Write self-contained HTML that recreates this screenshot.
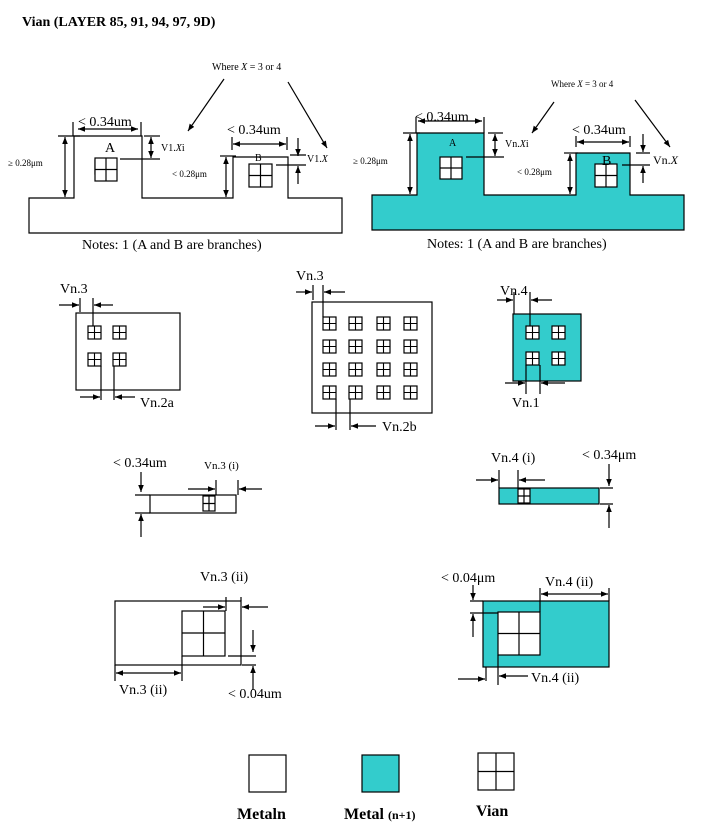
<!DOCTYPE html>
<html><head><meta charset="utf-8"><style>
html,body{margin:0;padding:0;background:#fff;width:701px;height:837px;overflow:hidden}
svg{display:block}
text{font-family:"Liberation Serif",serif;fill:#000}
</style></head><body>
<svg width="701" height="837" viewBox="0 0 701 837" xmlns="http://www.w3.org/2000/svg">
<defs>
<marker id="a" viewBox="0 0 10 10" refX="10" refY="5" markerWidth="7" markerHeight="7" orient="auto-start-reverse" markerUnits="userSpaceOnUse"><path d="M0,1 L10,5 L0,9 z" fill="#000"/></marker>
<g id="via"><rect x="0" y="0" width="14" height="14" fill="#fff" stroke="#000" stroke-width="1.2"/><path d="M7,0V14M0,7H14" stroke="#000" stroke-width="1.2"/></g>
<g id="sv"><rect x="0" y="0" width="13" height="13" fill="#fff" stroke="#000" stroke-width="1.2"/><path d="M6.5,0V13M0,6.5H13" stroke="#000" stroke-width="1.1"/></g>
</defs>
<g stroke="#000" stroke-width="1.2" fill="none">
<text x="22" y="26" font-size="14" font-weight="bold" stroke="none">Vian (LAYER 85, 91, 94, 97, 9D)</text>

<!-- top left -->
<polygon points="29,198 74,198 74,136 142,136 142,198 233,198 233,157 288,157 288,198 342,198 342,233 29,233" fill="#fff"/>
<use href="#via" x="95" y="160" transform="translate(0,0)"/>
<rect x="95" y="158" width="22" height="23" fill="#fff"/><path d="M106,158V181M95,169.5H117"/>
<rect x="249" y="164" width="23" height="23" fill="#fff"/><path d="M260.5,164V187M249,175.5H272"/>
<text x="105" y="152" font-size="14" stroke="none">A</text>
<text x="255" y="161" font-size="10" stroke="none">B</text>
<path d="M73,122V136M141,122V136"/><path d="M78,129H138" marker-start="url(#a)" marker-end="url(#a)"/>
<text x="78" y="126" font-size="14" stroke="none">&lt; 0.34um</text>
<path d="M58,136H80"/><path d="M65,137V197" marker-start="url(#a)" marker-end="url(#a)"/>
<text x="8" y="166" font-size="9" stroke="none">≥ 0.28μm</text>
<path d="M144,136H160"/><path d="M151,137V158" marker-start="url(#a)" marker-end="url(#a)"/><path d="M120,159H160"/>
<text x="161" y="151" font-size="10" stroke="none">V1.<tspan font-style="italic">X</tspan>i</text>
<text x="172" y="177" font-size="9" stroke="none">&lt; 0.28μm</text>
<path d="M220,156H236"/><path d="M226,157V197" marker-start="url(#a)" marker-end="url(#a)"/>
<path d="M232,137V150M287,137V150"/><path d="M233,144H286" marker-start="url(#a)" marker-end="url(#a)"/>
<text x="227" y="134" font-size="14" stroke="none">&lt; 0.34um</text>
<path d="M298,138V156" marker-end="url(#a)"/><path d="M298,184V166" marker-end="url(#a)"/>
<path d="M290,155H306M276,165H306"/>
<text x="307" y="162" font-size="10" stroke="none">V1.<tspan font-style="italic">X</tspan></text>
<text x="212" y="70" font-size="10" stroke="none">Where <tspan font-style="italic">X</tspan> = 3 or 4</text>
<path d="M224,79L188,131" marker-end="url(#a)"/><path d="M288,82L327,148" marker-end="url(#a)"/>
<text x="82" y="249" font-size="14" stroke="none">Notes: 1 (A and B are branches)</text>

<!-- top right -->
<polygon points="372,195 417,195 417,133 484,133 484,195 576,195 576,153 630,153 630,195 684,195 684,230 372,230" fill="#33cccc"/>
<rect x="440" y="157" width="22" height="22" fill="#fff"/><path d="M451,157V179M440,168H462"/>
<rect x="595" y="164" width="22" height="23" fill="#fff"/><path d="M606,164V187M595,175.5H617"/>
<text x="449" y="146" font-size="10" stroke="none">A</text>
<text x="602" y="165" font-size="14" stroke="none">B</text>
<path d="M416,117V133M484,117V133"/><path d="M418,121H482" marker-start="url(#a)" marker-end="url(#a)"/>
<text x="415" y="121" font-size="14" stroke="none">&lt; 0.34um</text>
<path d="M403,133H420"/><path d="M410,134V194" marker-start="url(#a)" marker-end="url(#a)"/>
<text x="353" y="164" font-size="9" stroke="none">≥ 0.28μm</text>
<path d="M488,133H503"/><path d="M495,134V156" marker-start="url(#a)" marker-end="url(#a)"/><path d="M466,157H504"/>
<text x="505" y="147" font-size="10" stroke="none">Vn.<tspan font-style="italic">X</tspan>i</text>
<text x="517" y="175" font-size="9" stroke="none">&lt; 0.28μm</text>
<path d="M564,153H578"/><path d="M570,154V194" marker-start="url(#a)" marker-end="url(#a)"/>
<path d="M576,136V147M630,136V147"/><path d="M577,142H629" marker-start="url(#a)" marker-end="url(#a)"/>
<text x="572" y="134" font-size="14" stroke="none">&lt; 0.34um</text>
<path d="M643,134V152" marker-end="url(#a)"/><path d="M643,183V166" marker-end="url(#a)"/>
<path d="M636,153H650M622,165H650"/>
<text x="653" y="164" font-size="12" stroke="none">Vn.<tspan font-style="italic">X</tspan></text>
<text x="551" y="87" font-size="9" stroke="none">Where <tspan font-style="italic">X</tspan> = 3 or 4</text>
<path d="M554,102L532,133" marker-end="url(#a)"/><path d="M635,100L670,147" marker-end="url(#a)"/>
<text x="427" y="248" font-size="14" stroke="none">Notes: 1 (A and B are branches)</text>

<!-- row 2 box1 -->
<rect x="76" y="313" width="104" height="77" fill="#fff"/>
<use href="#sv" x="88" y="326"/><use href="#sv" x="113" y="326"/><use href="#sv" x="88" y="353"/><use href="#sv" x="113" y="353"/>
<text x="60" y="293" font-size="14" stroke="none">Vn.3</text>
<path d="M80,298V312M93,298V326"/>
<path d="M59,305H79" marker-end="url(#a)"/><path d="M113,305H94" marker-end="url(#a)"/>
<path d="M101,366V400M114,366V400"/>
<path d="M80,397H100" marker-end="url(#a)"/><path d="M135,397H115" marker-end="url(#a)"/>
<text x="140" y="407" font-size="14" stroke="none">Vn.2a</text>

<!-- box2 -->
<rect x="312" y="302" width="120" height="111" fill="#fff"/>
<use href="#sv" x="323" y="317"/><use href="#sv" x="349" y="317"/><use href="#sv" x="377" y="317"/><use href="#sv" x="404" y="317"/>
<use href="#sv" x="323" y="340"/><use href="#sv" x="349" y="340"/><use href="#sv" x="377" y="340"/><use href="#sv" x="404" y="340"/>
<use href="#sv" x="323" y="363"/><use href="#sv" x="349" y="363"/><use href="#sv" x="377" y="363"/><use href="#sv" x="404" y="363"/>
<use href="#sv" x="323" y="386"/><use href="#sv" x="349" y="386"/><use href="#sv" x="377" y="386"/><use href="#sv" x="404" y="386"/>
<text x="296" y="280" font-size="14" stroke="none">Vn.3</text>
<path d="M313,285V300M323,285V317"/>
<path d="M296,292H312" marker-end="url(#a)"/><path d="M345,292H324" marker-end="url(#a)"/>
<path d="M336,399V430M350,399V430"/>
<path d="M315,426H335" marker-end="url(#a)"/><path d="M376,426H351" marker-end="url(#a)"/>
<text x="382" y="431" font-size="14" stroke="none">Vn.2b</text>

<!-- box3 teal -->
<rect x="513" y="314" width="68" height="67" fill="#33cccc"/>
<use href="#sv" x="526" y="326"/><use href="#sv" x="552" y="326"/><use href="#sv" x="526" y="352"/><use href="#sv" x="552" y="352"/>
<text x="500" y="295" font-size="14" stroke="none">Vn.4</text>
<path d="M514,292V314M530,292V326"/>
<path d="M497,300H513" marker-end="url(#a)"/><path d="M552,300H531" marker-end="url(#a)"/>
<path d="M526,365V394M540,365V394"/>
<path d="M505,383H525" marker-end="url(#a)"/><path d="M565,383H541" marker-end="url(#a)"/>
<text x="512" y="407" font-size="14" stroke="none">Vn.1</text>

<!-- row 3 left -->
<rect x="150" y="495" width="86" height="18" fill="#fff"/>
<rect x="203" y="496" width="12" height="15" fill="#fff"/><path d="M209,496V511M203,503.5H215"/>
<text x="113" y="467" font-size="14" stroke="none">&lt; 0.34um</text>
<path d="M141,472V492" marker-end="url(#a)"/><path d="M141,537V514" marker-end="url(#a)"/>
<path d="M135,495H150M135,513H150"/>
<text x="204" y="469" font-size="11" stroke="none">Vn.3 (i)</text>
<path d="M188,489H215" marker-end="url(#a)"/><path d="M262,489H239" marker-end="url(#a)"/>
<path d="M216,480V495M238,480V495"/>

<!-- row 3 right -->
<rect x="499" y="488" width="100" height="16" fill="#33cccc"/>
<rect x="518" y="489" width="12" height="14" fill="#fff"/><path d="M524,489V503M518,496H530"/>
<text x="491" y="462" font-size="14" stroke="none">Vn.4 (i)</text>
<path d="M476,480H498" marker-end="url(#a)"/><path d="M545,480H519" marker-end="url(#a)"/>
<path d="M499,470V488M518,470V488"/>
<text x="582" y="459" font-size="14" stroke="none">&lt; 0.34μm</text>
<path d="M609,464V486" marker-end="url(#a)"/><path d="M609,528V505" marker-end="url(#a)"/>
<path d="M600,488H613M600,504H613"/>

<!-- row 4 left -->
<rect x="115" y="601" width="126" height="64" fill="#fff"/>
<rect x="182" y="611" width="43" height="45" fill="#fff"/><path d="M203.5,611V656M182,633H225"/>
<text x="200" y="581" font-size="14" stroke="none">Vn.3 (ii)</text>
<path d="M203,607H225" marker-end="url(#a)"/><path d="M268,607H242" marker-end="url(#a)"/>
<path d="M226,597V611M241,597V601"/>
<path d="M253,630V652" marker-end="url(#a)"/><path d="M253,690V666" marker-end="url(#a)"/>
<path d="M228,656H256M242,665H256"/>
<text x="228" y="698" font-size="14" stroke="none">&lt; 0.04um</text>
<path d="M115,665V681M182,656V681"/>
<path d="M116,673H181" marker-start="url(#a)" marker-end="url(#a)"/>
<text x="119" y="694" font-size="14" stroke="none">Vn.3 (ii)</text>

<!-- row 4 right -->
<rect x="483" y="601" width="126" height="66" fill="#33cccc"/>
<rect x="498" y="612" width="42" height="43" fill="#fff"/><path d="M519,612V655M498,633.5H540"/>
<text x="441" y="582" font-size="14" stroke="none">&lt; 0.04μm</text>
<path d="M473,585V600" marker-end="url(#a)"/><path d="M473,637V614" marker-end="url(#a)"/>
<path d="M470,601H483M470,613H498"/>
<text x="545" y="586" font-size="14" stroke="none">Vn.4 (ii)</text>
<path d="M540,588V612M609,588V601"/>
<path d="M541,594H608" marker-start="url(#a)" marker-end="url(#a)"/>
<path d="M486,667V681M498,655V685"/>
<path d="M458,679H485" marker-end="url(#a)"/><path d="M528,676H499" marker-end="url(#a)"/>
<text x="531" y="682" font-size="14" stroke="none">Vn.4 (ii)</text>

<!-- legend -->
<rect x="249" y="755" width="37" height="37" fill="#fff"/>
<rect x="362" y="755" width="37" height="37" fill="#33cccc"/>
<rect x="478" y="753" width="36" height="37" fill="#fff"/><path d="M496,753V790M478,771.5H514"/>
<text x="237" y="819" font-size="16" font-weight="bold" stroke="none">Metaln</text>
<text x="344" y="819" font-size="16" font-weight="bold" stroke="none">Metal <tspan font-size="12">(n+1)</tspan></text>
<text x="476" y="816" font-size="16" font-weight="bold" stroke="none">Vian</text>
</g>
</svg>
</body></html>
